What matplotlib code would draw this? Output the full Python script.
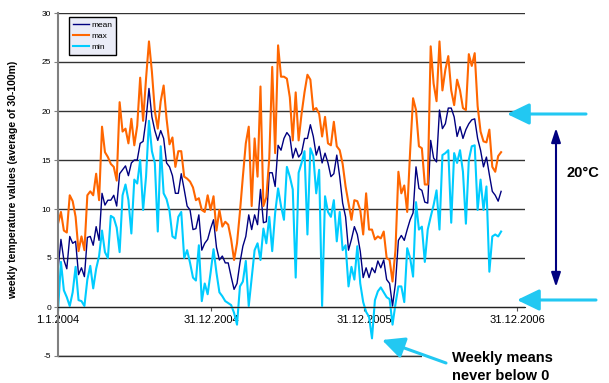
import matplotlib
matplotlib.use("Agg")
import matplotlib.pyplot as plt
from matplotlib.patches import FancyArrowPatch, ArrowStyle, Rectangle
import pandas as pd

# weekly values, one per week from 1.1.2004
mean_vals = [3.8, 6.9, 4.8, 3.9, 7.2, 6.5, 6.7, 3.3, 4.0, 3.1, 7.1, 7.2, 6.3, 8.2, 6.8, 11.6, 10.4, 10.9, 10.9, 11.4, 10.3,
             13.6, 14.0, 14.4, 13.4, 14.7, 15.0, 15.0, 16.7, 16.9, 19.1, 22.3,
             19.4, 18.0, 17.0, 18.0, 17.2,
             14.7, 14.3, 13.4, 11.6, 11.6, 13.6, 12.0, 10.3, 9.9, 7.9, 8.0, 9.4, 5.8, 6.5, 6.9, 8.0, 8.9, 6.1, 4.8,
             5.2, 4.5, 4.5, 3.1, 1.8, 2.4, 4.5, 6.2, 7.2, 9.4, 7.9, 9.4, 8.4, 12.0, 8.6, 8.7, 13.7, 13.7,
             12.3,
             16.5, 16.0, 17.2, 17.8, 17.4, 15.2, 16.2, 15.3, 15.7, 17.2, 17.2, 18.6, 17.4, 15.5, 16.4, 14.7, 15.7,
             14.7, 13.3, 13.6, 15.5, 13.3, 10.6, 9.2, 5.8, 6.9, 8.2, 7.4, 5.7,
             3.0, 4.0, 3.0, 4.0, 3.5, 4.7, 4.0, 4.8, 2.8, 2.4,
             0.1, 2.4, 6.8, 7.3, 6.8, 7.9, 8.9, 9.6, 14.3, 12.1, 11.9, 10.7, 10.6,
             17.0, 15.2, 14.8, 20.1, 18.2, 18.7, 20.3,
             20.3, 19.4, 17.4, 18.4, 17.2, 18.1, 18.7, 19.1, 19.2, 17.2, 16.0, 14.3, 15.3, 13.5, 11.8, 11.4, 10.8, 11.8]

max_vals = [8.5, 9.7, 7.8, 7.6, 11.4, 10.8, 9.2, 5.7, 7.2, 5.8, 11.4, 11.8, 11.4, 13.6, 10.9, 18.4, 15.8, 15.3, 14.6,
            14.3, 12.9, 20.9, 17.9, 18.2, 16.7, 19.2, 16.5, 18.5, 23.4, 19.0, 23.3, 27.1, 24.0, 20.0, 18.2, 21.0, 22.6,
            19.2, 16.6, 17.3, 14.3, 15.9, 15.9, 13.3, 13.1, 12.8, 12.2, 10.9, 11.1, 9.9, 9.7, 11.4, 9.9, 11.3, 7.8,
            9.9, 8.2, 8.7, 8.4, 6.9, 4.8, 6.5, 9.7, 13.3, 16.7, 18.4, 10.3, 17.2, 13.3, 22.5, 10.3, 11.2, 15.2, 24.5,
            15.7,
            26.7, 23.5, 23.5, 23.3, 21.4, 17.0, 21.9, 17.0, 19.7, 21.9, 23.7, 23.2, 20.1, 20.3, 19.7, 17.4, 19.4,
            16.7, 16.5, 18.9, 16.4, 16.0, 14.6, 12.3, 10.6, 8.9, 10.9, 10.8, 9.9,
            7.4, 11.6, 7.9, 7.9, 6.9, 7.2, 7.0, 7.7, 5.0, 4.8, 2.6,
            5.8, 13.8, 11.6, 12.4, 9.7, 15.9, 21.3, 20.1, 16.4, 16.2, 12.5, 12.5,
            26.6, 22.8, 21.0, 27.1, 22.1, 24.2, 25.6,
            22.1, 20.6, 23.2, 22.1, 20.3, 20.1, 25.8, 24.6, 25.9, 20.5, 17.9, 16.9, 16.8, 18.1, 14.3, 13.8, 15.4, 15.8]

min_vals = [-0.4, 4.6, 1.7, 1.0, 0.1, 1.5, 4.1, 0.7, 0.6, 0.1, 2.8, 4.2, 1.9, 3.9, 5.2, 7.8, 5.6, 5.0, 9.3, 9.1,
            8.1, 5.6, 11.4, 12.5, 10.9, 7.5, 13.0, 12.6, 15.0, 9.9, 13.3, 19.0, 15.9, 14.7, 7.7, 16.4, 11.6,
            11.0, 9.8, 7.2, 7.0, 9.2, 9.7, 5.0, 5.8, 4.5, 3.0, 2.7, 6.3, 0.6, 2.4, 1.3, 3.5, 5.9, 3.5, 1.5, 1.1,
            0.6, 0.4, 0.2, -0.6, -1.8, 2.1, 2.6, 4.7, 0.1, 3.0, 5.8, 6.5, 4.8, 8.0, 6.5, 9.2, 5.7,
            9.6,
            12.1, 10.3, 8.9, 14.3, 13.3, 12.0, 3.0, 13.7, 14.7, 15.9, 7.4, 16.2, 15.4, 11.6, 14.0, 0.1, 11.3,
            9.7, 9.2, 10.9, 6.7, 9.7, 5.8, 6.3, 2.1, 4.1, 2.8, 6.2, 2.4,
            0.5, -0.5, -1.0, -3.2, 0.7, 1.6, 2.0, 1.5, 1.0, 0.8, -1.8,
            0.3, 2.1, 2.1, 0.5, 6.0, 5.0, 3.1, 10.7, 7.9, 8.2, 4.6, 7.9, 9.2, 10.4, 11.9, 7.9, 15.5, 15.7, 16.0,
            8.6, 15.7, 14.7, 16.0, 13.8, 8.5, 15.0, 16.4, 16.5, 9.9, 13.0, 9.9, 12.3, 3.6, 7.2, 7.4, 7.2, 7.7]

tick_dates = ["2004-01-01", "2004-12-31", "2005-12-31", "2006-12-31"]
tick_labels = ["1.1.2004", "31.12.2004", "31.12.2005", "31.12.2006"]

W, H = 609, 383


def fx(x):
    return x / W


def fy(y):
    return 1 - y / H


def main():
    plt.rcParams["font.family"] = ["Liberation Sans", "DejaVu Sans"]
    plt.rcParams["axes.unicode_minus"] = False
    weeks = pd.date_range("2004-01-01", periods=len(mean_vals), freq="7D")

    fig = plt.figure(figsize=(W / 100, H / 100), dpi=100)
    ax = fig.add_axes([fx(58), fy(356), (525 - 58) / W, (356 - 13) / H])

    ax.plot(weeks, mean_vals, color="#000080", lw=1.0, label="mean")
    ax.plot(weeks, max_vals, color="#FF6600", lw=1.5, label="max")
    ax.plot(weeks, min_vals, color="#00CCFF", lw=1.5, label="min")

    ax.set_ylim(-5, 30)
    ax.set_yticks(range(-5, 31, 5))
    ax.set_xlim(pd.Timestamp("2004-01-01"), pd.Timestamp("2004-01-01") + pd.Timedelta(days=1114))
    ax.set_xticks([pd.Timestamp(d) for d in tick_dates])
    ax.set_xticklabels(tick_labels)

    ax.yaxis.grid(True, color="#333333", lw=1.0)
    ax.axhline(-5, color="#333333", lw=1.0, clip_on=False, zorder=0.5)
    ax.set_axisbelow(True)
    for s in ["top", "right"]:
        ax.spines[s].set_visible(False)
    ax.spines["left"].set_color("#808080")
    ax.spines["left"].set_linewidth(1.5)
    ax.spines["bottom"].set_position(("data", 0))
    ax.spines["bottom"].set_color("#222222")
    ax.tick_params(axis="y", direction="out", length=3, color="#808080", labelsize=6, pad=2)
    ax.tick_params(axis="x", direction="out", length=3, color="#555555", labelsize=8, pad=3)

    ax.set_ylabel("weekly temperature values (average of 30-100m)", fontsize=7.5, fontweight="bold")
    ax.yaxis.set_label_coords(-0.086, 0.513)

    ax.legend(loc="upper left", bbox_to_anchor=(fx(69), fy(17)), bbox_transform=fig.transFigure,
              fontsize=6, frameon=True, fancybox=False, edgecolor="black", facecolor="#eaecf7",
              framealpha=1, borderaxespad=0, handlelength=2.0, handletextpad=0.2,
              borderpad=0.45, labelspacing=0.42)

    # white box behind the note, it hides the end of the -5 line
    fig.add_artist(Rectangle((fx(422), 0), fx(609 - 422), (383 - 346) / H, transform=fig.transFigure,
                             facecolor="white", edgecolor="none", zorder=1))

    # arrows and notes on the right and bottom
    cyan = "#22C8F2"
    head = ArrowStyle("-|>", head_length=1.35, head_width=0.65)
    for tail, tip in [((586, 114), (507, 114)), ((596, 300), (517, 300)), ((446, 363), (382, 340))]:
        fig.add_artist(FancyArrowPatch((fx(tail[0]), fy(tail[1])), (fx(tip[0]), fy(tip[1])),
                                       transform=fig.transFigure, arrowstyle=head, mutation_scale=10,
                                       color=cyan, lw=2.2, shrinkA=0, shrinkB=0, zorder=2))
    dbl = ArrowStyle("<|-|>", head_length=0.85, head_width=0.28)
    fig.add_artist(FancyArrowPatch((fx(556), fy(287)), (fx(556), fy(128)), transform=fig.transFigure,
                                   arrowstyle=dbl, mutation_scale=10, color="#000080", lw=1.5,
                                   shrinkA=0, shrinkB=0, zorder=2))
    fig.text(fx(583), fy(173), "20°C", fontsize=10.5, fontweight="bold", ha="center", va="center")
    fig.text(fx(452), fy(362), "Weekly means", fontsize=10.5, fontweight="bold", ha="left", va="baseline")
    fig.text(fx(452), fy(380), "never below 0", fontsize=10.5, fontweight="bold", ha="left", va="baseline")

    fig.savefig("out.png", dpi=100)


if __name__ == "__main__":
    main()
